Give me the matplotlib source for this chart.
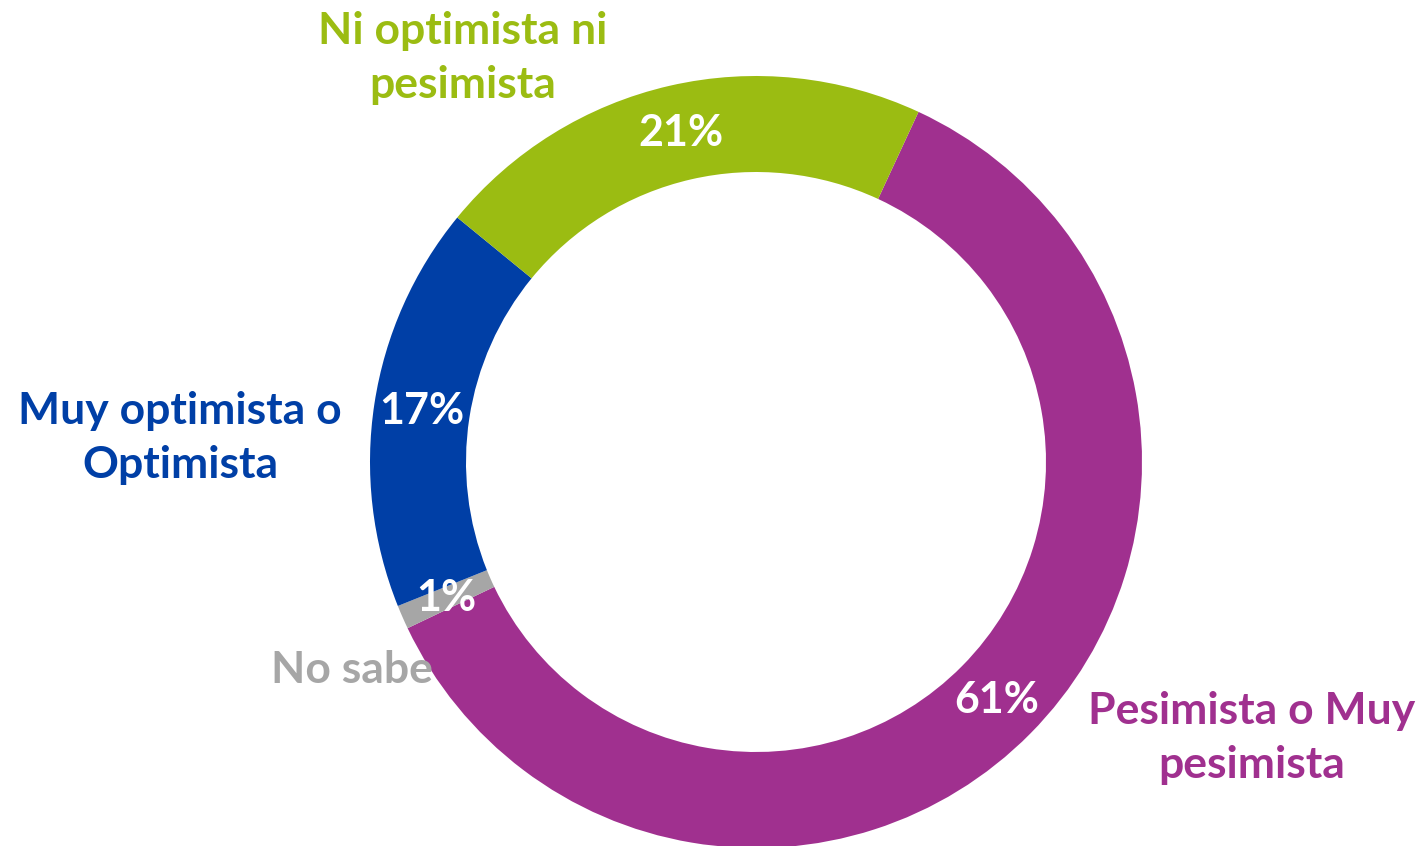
import matplotlib
matplotlib.use("Agg")
import matplotlib.pyplot as plt
import numpy as np

categories = ["Pesimista o Muy\npesimista", "No sabe", "Muy optimista o\nOptimista", "Ni optimista ni\npesimista"]
values = [61, 1, 17, 21]
pct_labels = ["61%", "1%", "17%", "21%"]
colors = ["#A0308F", "#A6A6A6", "#003FA6", "#9BBC12"]

plt.rcParams['font.family'] = ['Lato', 'DejaVu Sans']

W, H = 1425, 846
fig = plt.figure(figsize=(W / 100, H / 100), dpi=100)
ax = fig.add_axes([0, 0, 1, 1])
ax.set_xlim(0, W)
ax.set_ylim(0, H)
ax.set_aspect('equal')
ax.axis('off')

cx, cy, R = 756, H - 462, 386
wedges, texts = ax.pie(values, colors=colors, startangle=65.1, counterclock=False,
                       center=(cx, cy), radius=R,
                       wedgeprops=dict(width=R - 290, linewidth=0))
ax.set_xlim(0, W)
ax.set_ylim(0, H)

theta = 65.1
for v, p in zip(values, pct_labels):
    mid = theta - v * 360 / 100 / 2
    theta -= v * 360 / 100
    r = 338
    x = cx + r * np.cos(np.radians(mid))
    y = cy + r * np.sin(np.radians(mid))
    ax.text(x, y, p, ha='center', va='center', color='white', fontsize=31, fontweight='bold')

label_pos = [(1252, H - 738), (352, H - 670), (180, H - 438), (463, H - 58)]
for lab, (x, y), c in zip(categories, label_pos, colors):
    ax.text(x, y, lab, ha='center', va='center', color=c, fontsize=32, fontweight='bold',
            linespacing=1.45)

fig.savefig("out.png", dpi=100)
